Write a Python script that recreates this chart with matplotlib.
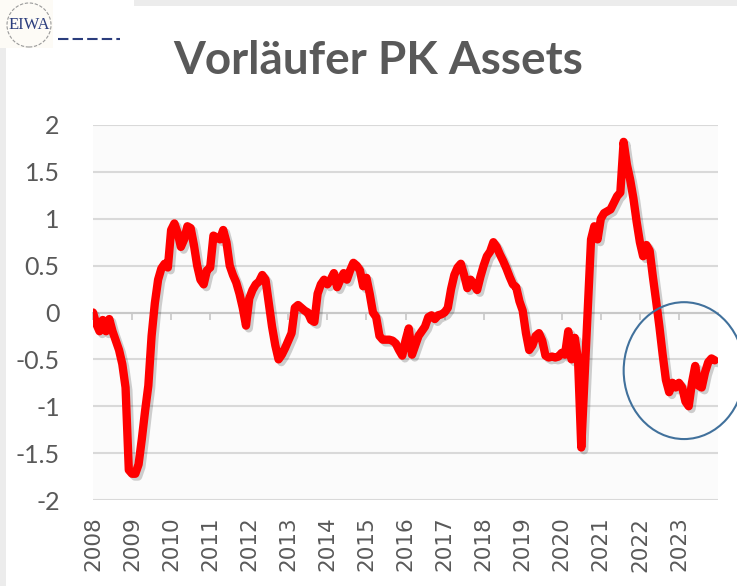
import numpy as np
import matplotlib
matplotlib.use("Agg")
import matplotlib.pyplot as plt
import matplotlib.patheffects as pe
from matplotlib.patches import Ellipse, Circle, Rectangle

# monthly values Jan 2008 .. Dec 2023
start_year = 2008
values = [
    # 2008
    0.0, -0.12, -0.2, -0.08, -0.2, -0.07, -0.2, -0.3, -0.4, -0.55, -0.8, -1.68,
    # 2009
    -1.72, -1.72, -1.62, -1.35, -1.05, -0.78, -0.25, 0.1, 0.35, 0.47, 0.52, 0.48,
    # 2010
    0.88, 0.95, 0.85, 0.7, 0.78, 0.92, 0.9, 0.72, 0.5, 0.35, 0.3, 0.45,
    # 2011
    0.48, 0.82, 0.8, 0.78, 0.88, 0.75, 0.5, 0.4, 0.32, 0.2, 0.05, -0.14,
    # 2012
    0.15, 0.24, 0.3, 0.33, 0.4, 0.35, 0.1, -0.15, -0.35, -0.5, -0.45, -0.38,
    # 2013
    -0.3, -0.22, 0.05, 0.08, 0.05, 0.02, 0.0, -0.08, -0.1, 0.2, 0.3, 0.35,
    # 2014
    0.3, 0.35, 0.42, 0.27, 0.35, 0.42, 0.35, 0.45, 0.53, 0.5, 0.45, 0.28,
    # 2015
    0.37, 0.2, 0.0, -0.05, -0.25, -0.29, -0.29, -0.29, -0.3, -0.33, -0.4, -0.46,
    # 2016
    -0.3, -0.17, -0.45, -0.35, -0.25, -0.2, -0.15, -0.05, -0.03, -0.07, -0.03, -0.02,
    # 2017
    0.0, 0.05, 0.25, 0.4, 0.48, 0.52, 0.4, 0.26, 0.35, 0.3, 0.24, 0.38,
    # 2018
    0.5, 0.6, 0.65, 0.75, 0.7, 0.62, 0.55, 0.47, 0.38, 0.3, 0.27, 0.12,
    # 2019
    0.02, -0.22, -0.4, -0.35, -0.25, -0.22, -0.3, -0.46, -0.48, -0.47, -0.48, -0.47,
    # 2020
    -0.43, -0.45, -0.2, -0.5, -0.27, -0.5, -1.44, -0.7, 0.05, 0.78, 0.92, 0.78,
    # 2021
    1.0, 1.06, 1.08, 1.1, 1.17, 1.24, 1.28, 1.82, 1.58, 1.42, 1.22, 0.97,
    # 2022
    0.75, 0.6, 0.72, 0.66, 0.38, 0.12, -0.15, -0.45, -0.72, -0.85, -0.75, -0.8,
    # 2023
    -0.75, -0.8, -0.95, -1.0, -0.75, -0.57, -0.78, -0.8, -0.64, -0.53, -0.49, -0.51,
]
years = list(range(2008, 2024))
ytick_vals = [2, 1.5, 1, 0.5, 0, -0.5, -1, -1.5, -2]
ytick_labels = ["2", "1.5", "1", "0.5", "0", "-0.5", "-1", "-1.5", "-2"]
title = "Vorläufer PK Assets"

t = start_year + np.arange(len(values)) / 12.0

grey_txt = "#595959"

fig = plt.figure(figsize=(7.37, 5.86), dpi=100)
fig.patch.set_facecolor("white")

# light grey frame strips (screenshot border)
fig.add_artist(Rectangle((134 / 737, 1 - 6 / 586), 1, 6 / 586, transform=fig.transFigure,
                         color="#ececec", lw=0, zorder=0))
fig.add_artist(Rectangle((0, 0), 6 / 737, 1 - 48 / 586, transform=fig.transFigure,
                         color="#ececec", lw=0, zorder=0))

ax = fig.add_axes([93 / 737, 86 / 586, 625 / 737, 375 / 586])
ax.set_facecolor("#fbfbfb")

ax.plot(t, values, color="#ff0000", lw=6, solid_capstyle="round", solid_joinstyle="round",
        zorder=5,
        path_effects=[pe.SimpleLineShadow(offset=(2, -2), shadow_color="#000000", alpha=0.18),
                      pe.Normal()])

ax.set_xlim(2008, 2024)
ax.set_ylim(-2, 2)

ax.set_yticks(ytick_vals)
ax.set_yticklabels(ytick_labels, fontsize=18, color=grey_txt, family="Lato")
ax.tick_params(axis="y", length=0, pad=24)
ax.grid(axis="y", color="#d9d9d9", lw=1.5)
ax.set_axisbelow(True)

for s in ["top", "right", "left"]:
    ax.spines[s].set_visible(False)
ax.spines["bottom"].set_position(("data", 0))
ax.spines["bottom"].set_color("#c8c8c8")
ax.spines["bottom"].set_linewidth(1.5)
ax.set_xticks(years)
ax.tick_params(axis="x", direction="out", length=5, width=1.2, color="#c8c8c8",
               labelbottom=False)

sec = ax.secondary_xaxis(0.0)
sec.set_xticks(years)
sec.set_xticklabels([str(y) for y in years], rotation=90, fontsize=15.5, color=grey_txt)
sec.tick_params(length=0, pad=12)
sec.spines["bottom"].set_visible(False)

# blue circle highlighting 2022-2023
ax.add_patch(Ellipse((2023.13, -0.62), 3.09, 1.46, fill=False, ec="#41719c", lw=1.5,
                     clip_on=False, zorder=6))

fig.text(0.513, 0.932, title, ha="center", va="top", fontsize=33, fontweight="bold",
         color=grey_txt, family="Lato")

# logo top-left
fig.add_artist(Rectangle((0, 1 - 48 / 586), 134 / 737, 48 / 586, transform=fig.transFigure,
                         color="white", lw=0, zorder=1))
fig.add_artist(Rectangle((0, 1 - 48 / 586), 53 / 737, 48 / 586, transform=fig.transFigure,
                         color="#fdfbf6", lw=0, zorder=1))
logo = Circle((29, 586 - 25), 22, transform=None, fill=False, ec="#9a9a9a", lw=0.8,
              ls=(0, (3, 1.5)), zorder=2)
fig.add_artist(logo)
fig.text(29 / 737, 1 - 25 / 586, "EIWA", ha="center", va="center", fontsize=12,
         family="Liberation Serif", color="#2b3d7d", zorder=3)
fig.add_artist(plt.Line2D([58 / 737, 120 / 737], [1 - 39 / 586, 1 - 39 / 586],
                          transform=fig.transFigure, color="#2b3d7d", lw=1.5,
                          ls=(0, (5, 2)), zorder=3))

fig.savefig("out.png", dpi=100, facecolor="white")
